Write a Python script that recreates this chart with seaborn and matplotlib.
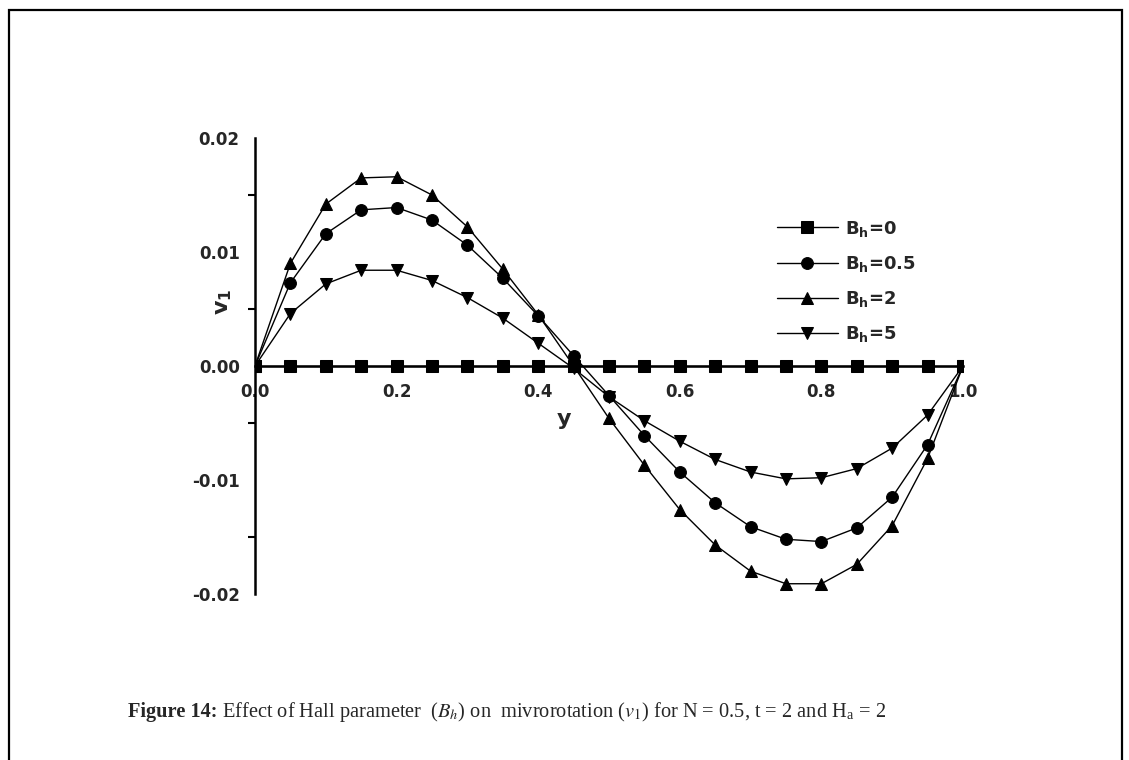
import numpy as np
import pandas as pd
import matplotlib
matplotlib.use("Agg")
import matplotlib.pyplot as plt
import matplotlib.patches as mpatches
from matplotlib.ticker import MultipleLocator, FormatStrFormatter
import seaborn as sns

# Transverse position across the channel
y_pos = [0.00, 0.05, 0.10, 0.15, 0.20, 0.25, 0.30, 0.35, 0.40, 0.45, 0.50,
         0.55, 0.60, 0.65, 0.70, 0.75, 0.80, 0.85, 0.90, 0.95, 1.00]

# Microrotation v1 for each Hall parameter
v1_bh0 = [0.0] * 21
v1_bh05 = [0.0, 0.0073, 0.0116, 0.0137, 0.0139, 0.0128, 0.0106, 0.0077, 0.0044, 0.0009,
           -0.0026, -0.0061, -0.0093, -0.0120, -0.0141, -0.0152, -0.0154, -0.0142,
           -0.0115, -0.0069, 0.0]
v1_bh2 = [0.0, 0.0090, 0.0142, 0.0165, 0.0166, 0.0150, 0.0122, 0.0085, 0.0045, 0.0000,
          -0.0046, -0.0087, -0.0126, -0.0157, -0.0180, -0.0191, -0.0191, -0.0174,
          -0.0140, -0.0081, 0.0]
v1_bh5 = [0.0, 0.0046, 0.0072, 0.0084, 0.0084, 0.0075, 0.0060, 0.0042, 0.0020, -0.0002,
          -0.0027, -0.0048, -0.0066, -0.0082, -0.0093, -0.0099, -0.0098, -0.0090,
          -0.0072, -0.0043, 0.0]

series_labels = [r"$\mathbf{B_h}$=0", r"$\mathbf{B_h}$=0.5",
                 r"$\mathbf{B_h}$=2", r"$\mathbf{B_h}$=5"]
series_values = [v1_bh0, v1_bh05, v1_bh2, v1_bh5]
marker_styles = ["s", "o", "^", "v"]

x_ticks = [0.0, 0.2, 0.4, 0.6, 0.8, 1.0]
x_tick_labels = ["0.0", "0.2", "0.4", "0.6", "0.8", "1.0"]

caption_head = "Figure 14:"
caption_body = (r"Effect of Hall parameter  ($B_h$) on  "
                r"mivrorotation ($v_1$) for N = 0.5, t = 2 and H$_\mathregular{a}$ = 2")

df = pd.DataFrame({
    "y": np.tile(y_pos, len(series_labels)),
    "v1": np.concatenate(series_values),
    "series": np.repeat(series_labels, len(y_pos)),
})

sns.set_style("white")
plt.rcParams["font.family"] = ["DejaVu Sans"]
plt.rcParams["mathtext.fontset"] = "custom"
plt.rcParams["mathtext.rm"] = "DejaVu Sans:bold"
plt.rcParams["mathtext.bf"] = "DejaVu Sans:bold"
plt.rcParams["mathtext.it"] = "DejaVu Sans:bold"

fig = plt.figure(figsize=(11.29, 7.60), dpi=100)
ax = fig.add_axes([255 / 1129, 1 - 594 / 760, 708 / 1129, 456 / 760])

sns.lineplot(data=df, x="y", y="v1", style="series", style_order=series_labels,
             markers=dict(zip(series_labels, marker_styles)), dashes=False,
             color="black", linewidth=1.0, markersize=8.5,
             markeredgecolor="black", markerfacecolor="black",
             errorbar=None, ax=ax, legend="full")

ax.set_xlim(0, 1.0)
ax.set_ylim(-0.02, 0.02)

# Axes: left spine at x = 0, bottom spine through v1 = 0
for side in ["top", "right"]:
    ax.spines[side].set_visible(False)
ax.spines["bottom"].set_position(("data", 0))
for side in ["left", "bottom"]:
    ax.spines[side].set_linewidth(1.8)
    ax.spines[side].set_color("black")

ax.set_xticks(x_ticks)
ax.set_xticklabels(x_tick_labels)
ax.yaxis.set_major_locator(MultipleLocator(0.01))
ax.yaxis.set_minor_locator(MultipleLocator(0.005))
ax.yaxis.set_major_formatter(FormatStrFormatter("%.2f"))
ax.tick_params(axis="both", which="major", direction="out", length=6, width=1.5,
               color="black", labelsize=12, pad=5)
ax.tick_params(axis="y", which="minor", direction="out", length=5, width=1.5,
               color="black", left=True)
ax.tick_params(axis="x", which="major", pad=6)
for lab in ax.get_xticklabels() + ax.get_yticklabels():
    lab.set_fontweight("bold")

ax.set_xlabel("y", fontsize=16, fontweight="bold")
ax.xaxis.set_label_coords(0.436, 0.405)
ax.set_ylabel(r"$\mathbf{v_1}$", fontsize=16, fontweight="bold")
ax.yaxis.set_label_coords(-0.030, 0.64)

handles, labels = ax.get_legend_handles_labels()
leg = ax.legend(handles, labels, loc="upper left", bbox_to_anchor=(0.737, 0.823),
                frameon=False, prop={"size": 13, "weight": "bold"},
                handlelength=3.4, handletextpad=0.35,
                labelspacing=0.84, borderaxespad=0, borderpad=0)
for h in leg.legend_handles:
    h.set_color("black")
    h.set_linewidth(1.0)
    h.set_markersize(8.5)

# Caption: bold heading followed by the description
head = fig.text(128 / 1129, 1 - 712 / 760, caption_head, fontsize=14.7,
                family="Liberation Serif", fontweight="bold", ha="left", va="center")
fig.canvas.draw()
head_box = head.get_window_extent(renderer=fig.canvas.get_renderer())
fig.text((head_box.x1 + 5) / fig.bbox.width, 1 - 712 / 760, caption_body,
         fontsize=14.7, family="Liberation Serif", fontweight="normal",
         math_fontfamily="stix", ha="left", va="center")

# Frame around the whole figure
fig.patches.append(mpatches.Rectangle((9 / 1129, -0.05), (1122 - 9) / 1129,
                                      1 - 10 / 760 + 0.05, transform=fig.transFigure,
                                      fill=False, edgecolor="black", linewidth=1.6))

fig.savefig("out.png", dpi=100)
